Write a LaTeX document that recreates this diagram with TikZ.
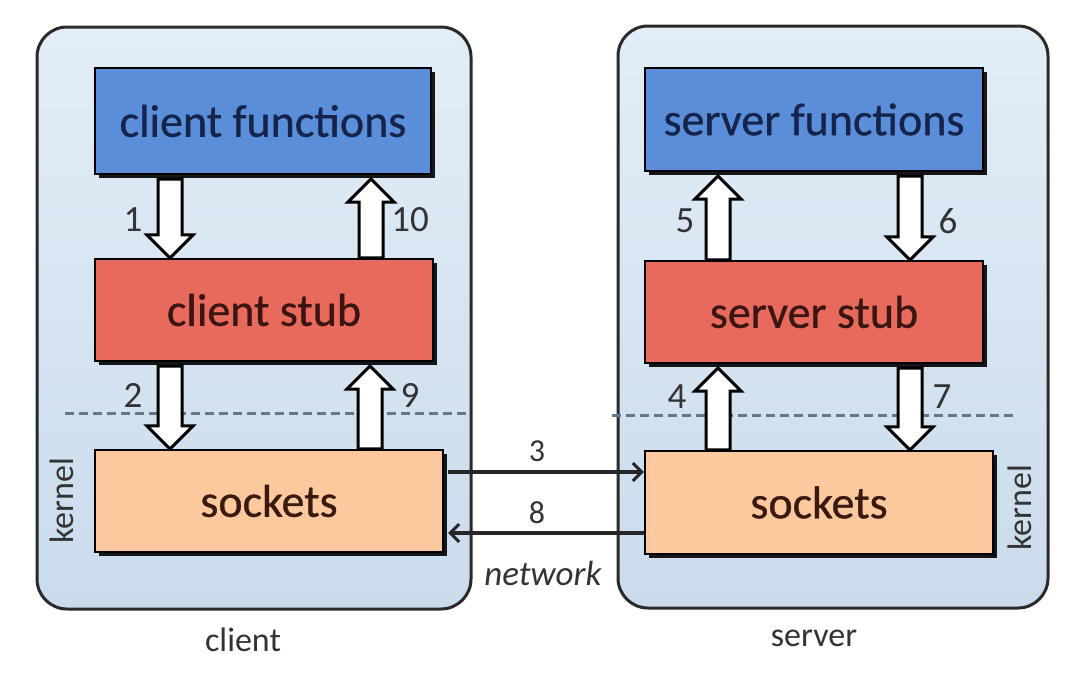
\documentclass[tikz,border=0pt]{standalone}
\usepackage{fontspec}
\setmainfont{Carlito}
\newfontfamily\boxfont[FakeBold=0.7]{Carlito}
\usetikzlibrary{arrows.meta,shadows,calc}
\definecolor{panelTop}{HTML}{E3EDF7}
\definecolor{panelBot}{HTML}{CADBEC}
\definecolor{panelLine}{HTML}{2A2A2A}
\definecolor{fnblue}{HTML}{5A8ED8}
\definecolor{stubred}{HTML}{E86A5C}
\definecolor{sockpeach}{HTML}{FCC99E}
\definecolor{fntext}{HTML}{14244A}
\definecolor{stubtext}{HTML}{3A1512}
\definecolor{socktext}{HTML}{3A1A10}
\definecolor{labtext}{HTML}{333333}
\definecolor{dashgrey}{HTML}{667788}
\tikzset{
  panel/.style={draw=panelLine, line width=3pt, rounded corners=30pt, top color=panelTop, bottom color=panelBot, inner sep=0pt},
  box/.style={draw=black, line width=2.2pt, inner sep=0pt,
    drop shadow={shadow xshift=4pt, shadow yshift=-4pt, fill=black, opacity=0.9}},
  boxtext/.style={font=\boxfont\fontsize{46}{52}\selectfont},
  blk/.style={draw=black, fill=white, line width=3pt, line join=miter},
  num/.style={text=labtext, font=\fontsize{37}{42}\selectfont, inner sep=0pt},
  netnum/.style={text=labtext, font=\fontsize{32}{38}\selectfont, inner sep=0pt},
  side/.style={text=labtext, font=\fontsize{34}{40}\selectfont, inner sep=0pt},
  kdash/.style={draw=dashgrey, line width=3pt, dash pattern=on 9pt off 5pt},
  net/.style={draw=black!85, line width=3.4pt, -{Straight Barb[length=9pt,width=18pt,line width=3pt]}},
}
\newcommand\blockarrow[4]{%
  \path (#1,0 |- #2) coordinate (ba-s) (#1,0 |- #3) coordinate (ba-e);
  \draw[blk] ([xshift=-12pt]ba-s) -- ([shift={(-12,-23*#4)}]ba-e) -- ([shift={(-23,-23*#4)}]ba-e)
    -- (ba-e) -- ([shift={(23,-23*#4)}]ba-e) -- ([shift={(12,-23*#4)}]ba-e) -- ([xshift=12pt]ba-s) -- cycle;}
\begin{document}
\begin{tikzpicture}[x=1pt,y=-1pt]
\useasboundingbox[fill=white] (0,0) rectangle (1081,675);
% panels
\node[panel, minimum width=434pt, minimum height=582pt] (cpanel) at (254,318) {};
\node[panel, minimum width=430pt, minimum height=582pt] (spanel) at (833,317) {};
% kernel dashed lines
\draw[kdash] (65,413) -- (470,413);
\draw[kdash] (612,415) -- (1015,415);
% box centres
\path
  (263,121) coordinate (cfnc) (264,310) coordinate (cstubc) (269,501) coordinate (csockc)
  (814,119.5) coordinate (sfnc) (814,312) coordinate (sstubc) (819,502.5) coordinate (ssockc);
\node[box, fill=fnblue, minimum width=336pt, minimum height=106pt, text=fntext, boxtext] (cfn) at (cfnc) {client functions};
\node[box, fill=stubred, minimum width=338pt, minimum height=102pt, text=stubtext, boxtext] (cstub) at (cstubc) {client stub};
\node[box, fill=sockpeach, minimum width=348pt, minimum height=102pt, text=socktext, boxtext] (csock) at (csockc) {sockets};
\node[box, fill=fnblue, minimum width=338pt, minimum height=103pt, text=fntext, boxtext] (sfn) at (sfnc) {server functions};
\node[box, fill=stubred, minimum width=338pt, minimum height=102pt, text=stubtext, boxtext] (sstub) at (sstubc) {server stub};
\node[box, fill=sockpeach, minimum width=348pt, minimum height=103pt, text=socktext, boxtext] (ssock) at (ssockc) {sockets};
% shadow-bottom anchors
\coordinate (cfnb) at ([yshift=-4pt]cfn.south);
\coordinate (cstubb) at ([yshift=-4pt]cstub.south);
\coordinate (sfnb) at ([yshift=-4pt]sfn.south);
\coordinate (sstubb) at ([yshift=-4pt]sstub.south);
% block arrows
\blockarrow{170}{cfnb}{cstub.north}{1}
\blockarrow{371}{cstub.north}{cfnb}{-1}
\blockarrow{170}{cstubb}{csock.north}{1}
\blockarrow{370}{csock.north}{cstubb}{-1}
\blockarrow{718}{sstub.north}{sfnb}{-1}
\blockarrow{910}{sfnb}{sstub.north}{1}
\blockarrow{718}{ssock.north}{sstubb}{-1}
\blockarrow{910}{sstubb}{ssock.north}{1}
% network arrows
\coordinate (n3s) at ([xshift=4pt,yshift=29pt]csock.east);
\draw[net] (n3s) -- (n3s -| ssock.west);
\coordinate (n8s) at ([yshift=-30.5pt]ssock.west);
\coordinate (n8e) at ([xshift=4pt]csock.east);
\draw[net] (n8s) -- (n8s -| n8e);
% numbers
\node[num] (l1) at (133,220) {1};
\node[num] (l10) at (410,220) {10};
\node[num] (l2) at (133,395) {2};
\node[num] (l9) at (410,395) {9};
\node[num] (l5) at (685,221) {5};
\node[num] (l6) at (948,221) {6};
\node[num] (l4) at (677,397) {4};
\node[num] (l7) at (942,397) {7};
\node[netnum] (l3) at (537,451) {3};
\node[netnum] (l8) at (537,513) {8};
\node[side, font=\fontsize{35}{40}\selectfont\itshape] (netlab) at (543,573) {network};
% kernel labels
\node[side, rotate=90] (kl) at (62,501) {kernel};
\node[side, rotate=90] (kr) at (1020,508) {kernel};
% panel names
\node[side] (clab) at (243,640) {client};
\node[side] (slab) at (814,638) {server};
\end{tikzpicture}
\end{document}
